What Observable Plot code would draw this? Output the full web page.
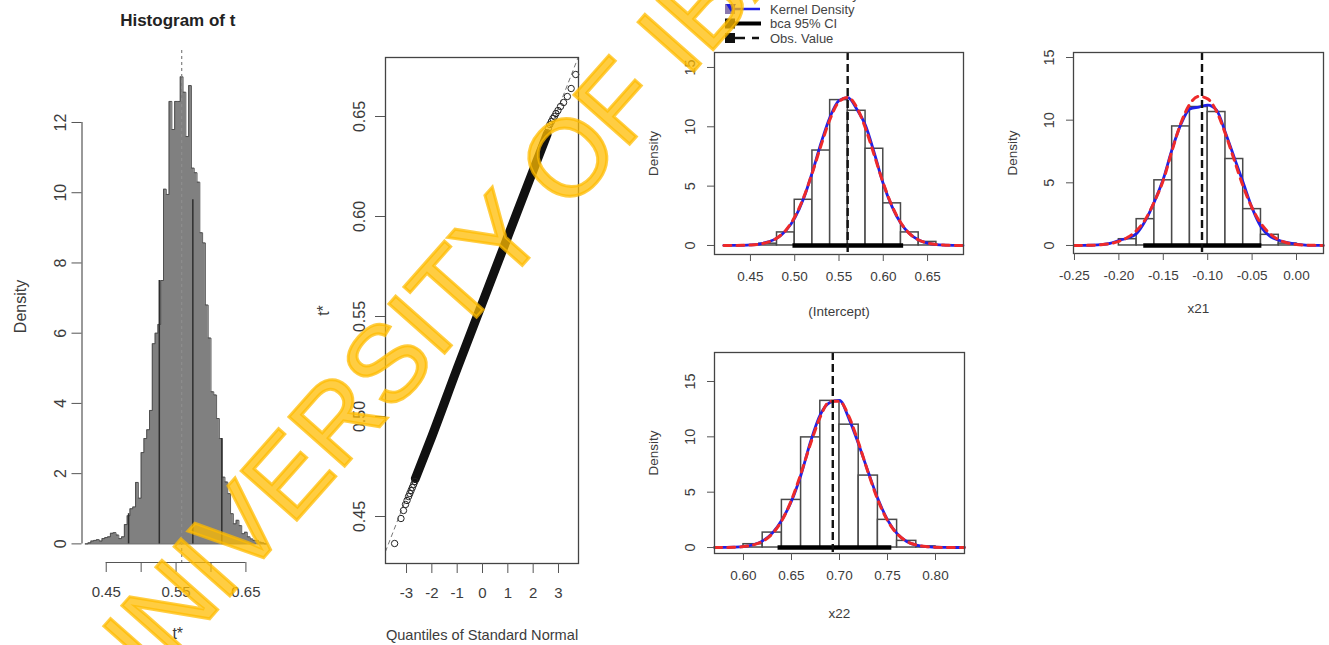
<!DOCTYPE html>
<html><head><meta charset="utf-8">
<script src="https://cdn.jsdelivr.net/npm/d3@7"></script>
<script src="https://cdn.jsdelivr.net/npm/@observablehq/plot@0.6"></script>
<style>
html,body{margin:0;padding:0;background:#fff;}
#page{position:relative;width:1329px;height:645px;overflow:hidden;font-family:"Liberation Sans",Arial,sans-serif;background:#fff;}
#page > svg{position:absolute;}
</style></head><body><div id="page"></div>
<script>
// ---------------- Panel 1: Histogram of t ----------------
const histStart = 0.420;
const histWidth = 0.004;
const histDensity = [0.0,0.03,0.08,0.1,0.12,0.08,0.15,0.18,0.2,0.3,0.32,0.25,0.15,0.2,0.55,0.8,1.0,1.05,1.75,1.3,
  2.6,3.0,3.25,3.8,5.7,6.0,6.25,7.5,10.1,9.95,12.6,11.8,12.6,12.6,13.3,12.86,11.6,13.05,10.7,10.57,
  10.3,8.86,8.57,6.8,5.86,4.33,4.24,3.57,3.0,1.9,1.76,1.43,0.86,0.57,0.67,0.52,0.29,0.33,0.2,0.14,
  0.1,0.1,0.05,0.03,0.0];
const histDarkLineX = [0.482, 0.526, 0.574, 0.6155];
const histDarkLineTop = [0.86, 7.5, 9.8, 3.0];
const t0 = 0.558;
const histYTicks = [0, 2, 4, 6, 8, 10, 12];
const histXTicks = [0.45, 0.50, 0.55, 0.60, 0.65];

// ---------------- Panel 2: QQ plot ----------------
const qqTailQ = [-3.47,-3.22,-3.12,-3.04,-2.98,-2.92,-2.87,-2.82,-2.77,-2.72,-2.67,
                 2.55,2.6,2.66,2.72,2.78,2.84,2.9,2.98,3.08,3.2,3.35,3.5,3.68];
const qqTailT = [0.4365,0.4490,0.4530,0.4560,0.4580,0.4600,0.4615,0.4630,0.4645,0.4660,0.4675,
                 0.6420,0.6440,0.6460,0.6475,0.6490,0.6500,0.6515,0.6530,0.6550,0.6570,0.6600,0.6640,0.6710];
const qqBodyQ = [-2.65,-2.0,-1.0,0.0,1.0,2.0,2.55];
const qqBodyT = [0.4690,0.4900,0.5240,0.5570,0.5900,0.6230,0.6410];
const qqLineQ = [-3.83, 3.79];
const qqLineT = [0.4325, 0.6800];
const qqXTicks = [-3,-2,-1,0,1,2,3];
const qqYTicks = [0.45,0.50,0.55,0.60,0.65];

// ---------------- Panels 3-5: bootstrap densities ----------------
const barWidth = 0.02;
const intBarStart = 0.46;
const intBarDensity = [0.15,1.1,3.85,8.0,12.25,11.35,8.15,3.55,1.1,0.3];
const intCurveX = [0.42,0.43,0.44,0.45,0.46,0.47,0.48,0.49,0.50,0.51,0.52,0.53,0.54,0.55,0.56,0.57,0.58,0.59,0.60,0.61,0.62,0.63,0.64,0.65,0.66,0.67,0.68,0.69];
const intNormal = [0.001,0.004,0.013,0.04,0.11,0.28,0.63,1.29,2.40,4.04,6.15,8.50,10.66,12.11,12.48,11.65,9.85,7.56,5.25,3.31,1.89,0.98,0.46,0.20,0.075,0.026,0.009,0.003];
const intKernel = [0.001,0.004,0.015,0.045,0.12,0.30,0.62,1.25,2.30,3.95,6.2,8.7,10.85,12.2,12.45,11.5,10.1,7.75,5.2,3.25,1.85,0.97,0.47,0.19,0.07,0.025,0.008,0.002];
const intObs = 0.5598, intCiLow = 0.498, intCiHigh = 0.623;
const intXTicks = [0.45,0.50,0.55,0.60,0.65];

const x21BarStart = -0.20;
const x21BarDensity = [0.5,2.1,5.2,9.5,11.05,10.65,6.9,2.9,0.85,0.15];
const x21CurveX = [-0.25,-0.24,-0.23,-0.22,-0.21,-0.20,-0.19,-0.18,-0.17,-0.16,-0.15,-0.14,-0.13,-0.12,-0.11,-0.10,-0.09,-0.08,-0.07,-0.06,-0.05,-0.04,-0.03,-0.02,-0.01,0.00,0.01,0.02,0.03];
const x21Normal = [0.0015,0.005,0.02,0.06,0.15,0.33,0.65,1.2,2.1,3.5,5.2,7.6,9.8,11.3,11.9,11.7,10.7,8.9,6.8,4.7,3.0,1.75,0.95,0.45,0.2,0.08,0.03,0.01,0.003];
const x21Kernel = [0.001,0.005,0.02,0.06,0.16,0.4,0.6,0.95,2.0,3.5,5.3,7.7,9.7,10.9,11.05,11.2,10.8,9.0,7.0,5.0,3.0,1.5,0.75,0.42,0.22,0.1,0.035,0.01,0.003];
const x21Obs = -0.1064, x21CiLow = -0.172, x21CiHigh = -0.039;
const x21XTicks = [-0.25,-0.20,-0.15,-0.10,-0.05,0.00];

const x22BarStart = 0.60;
const x22BarDensity = [0.3,1.35,4.3,9.95,13.25,11.1,6.5,2.5,0.6,0.1];
const x22CurveX = [0.57,0.58,0.59,0.60,0.61,0.62,0.63,0.64,0.65,0.66,0.67,0.68,0.69,0.70,0.71,0.72,0.73,0.74,0.75,0.76,0.77,0.78,0.79,0.80,0.81,0.82,0.83];
const x22Normal = [0.002,0.008,0.027,0.083,0.23,0.56,1.24,2.44,4.29,6.73,9.42,11.8,13.21,13.21,11.8,9.42,6.73,4.29,2.44,1.24,0.56,0.23,0.083,0.027,0.008,0.002,0.0005];
const x22Kernel = [0.002,0.01,0.03,0.09,0.25,0.6,1.3,2.5,4.2,6.6,9.6,12.0,13.1,13.3,11.6,9.3,6.8,4.4,2.5,1.25,0.55,0.22,0.08,0.025,0.008,0.002,0.0005];
const x22Obs = 0.693, x22CiLow = 0.636, x22CiHigh = 0.7545;
const x22XTicks = [0.60,0.65,0.70,0.75,0.80];

const densYTicks = [0, 5, 10, 15];
const legendLabels = ["Normal Density", "Kernel Density", "bca 95% CI", "Obs. Value"];
const watermarkText = "UNIVERSITY OF IBADAN";

// ---------------------------------------------------------
const FONT = '"Liberation Sans", Arial, Helvetica, sans-serif';
const page = document.getElementById("page");
const fmt2 = d => (d < 0 ? "-" : "") + Math.abs(d).toFixed(2);
function place(svg, left, top) { svg.style.left = left + "px"; svg.style.top = top + "px"; page.appendChild(svg); }

// Panel 1
const histBins = histDensity.map((d, i) => ({x1: histStart + i * histWidth, x2: histStart + (i + 1) * histWidth, d}));
const histEnd = histStart + histDensity.length * histWidth;
const histOutline = [{x: histStart, y: 0}, ...histBins.map(b => ({x: b.x1, y: b.d})), {x: histEnd, y: 0}];
const darkLines = histDarkLineX.map((x, i) => ({x, top: histDarkLineTop[i]}));

const p1 = Plot.plot({
  width: 300, height: 645,
  marginLeft: 81.5, marginRight: 27, marginTop: 50, marginBottom: 83,
  x: {domain: [0.4153, 0.6895]},
  y: {domain: [-0.53, 14.05]},
  style: {background: "transparent", color: "#3c3c3c", fontFamily: FONT, fontSize: "15px", overflow: "visible"},
  marks: [
    Plot.areaY(histOutline, {x: "x", y: "y", curve: "step-after", fill: "#808080"}),
    Plot.line(histOutline, {x: "x", y: "y", curve: "step-after", stroke: "#4a4a4a", strokeWidth: 0.9}),
    Plot.ruleY([0], {x1: histStart, x2: histEnd, stroke: "#4a4a4a", strokeWidth: 1}),
    Plot.ruleX(darkLines, {x: "x", y1: 0, y2: "top", stroke: "#2e2e2e", strokeWidth: 1.5}),
    Plot.ruleX([t0], {stroke: "#8c8c8c", strokeWidth: 1.3, strokeDasharray: "3,3"}),
    Plot.ruleX([0.4153], {y1: 0, y2: 12, stroke: "#555", strokeWidth: 1.2}),
    Plot.axisY({ticks: histYTicks, tickSize: 10, tickPadding: 6, tickRotate: -90, fontSize: 16, label: null, stroke: "#555"}),
    Plot.ruleY([-0.53], {x1: 0.45, x2: 0.65, stroke: "#555", strokeWidth: 1.2}),
    Plot.axisX({ticks: histXTicks, tickSize: 10, tickPadding: 14, label: null, stroke: "#555",
      tickFormat: (d, i) => (i % 2 === 0 ? d.toFixed(2) : "")}),
    Plot.text(["Histogram of t"], {frameAnchor: "top", dy: -30, lineAnchor: "middle", fontSize: 17, fontWeight: "bold", fill: "#222"}),
    Plot.text(["Density"], {frameAnchor: "left", dx: -61, rotate: -90, textAnchor: "middle", lineAnchor: "middle", fontSize: 16}),
    Plot.text(["t*"], {frameAnchor: "bottom", dy: 71, lineAnchor: "middle", fontSize: 16})
  ]
});
place(p1, 0, 0);

// Panel 2
const qqTail = qqTailQ.map((q, i) => ({q, t: qqTailT[i]}));
const qqBody = qqBodyQ.map((q, i) => ({q, t: qqBodyT[i]}));
const qqLine = qqLineQ.map((q, i) => ({q, t: qqLineT[i]}));
const p2 = Plot.plot({
  width: 300, height: 645,
  marginLeft: 85, marginRight: 22, marginTop: 57, marginBottom: 82,
  x: {domain: [-3.83, 3.79]},
  y: {domain: [0.4265, 0.6795]},
  style: {background: "transparent", color: "#3c3c3c", fontFamily: FONT, fontSize: "15px", overflow: "visible"},
  marks: [
    Plot.line(qqLine, {x: "q", y: "t", stroke: "#777", strokeWidth: 1, strokeDasharray: "4,4", clip: true}),
    Plot.line(qqBody, {x: "q", y: "t", stroke: "#111", strokeWidth: 9, strokeLinecap: "round", curve: "monotone-x"}),
    Plot.dot(qqTail, {x: "q", y: "t", r: 3.2, stroke: "#222", strokeWidth: 1}),
    Plot.frame({stroke: "#444", strokeWidth: 1.3}),
    Plot.axisY({ticks: qqYTicks, tickSize: 10, tickPadding: 11, tickRotate: -90, fontSize: 16, label: null, stroke: "#555", tickFormat: d => d.toFixed(2)}),
    Plot.axisX({ticks: qqXTicks, tickSize: 10, tickPadding: 14, label: null, stroke: "#555", tickFormat: d => String(d)}),
    Plot.text(["t*"], {frameAnchor: "left", dx: -62, rotate: -90, textAnchor: "middle", lineAnchor: "middle", fontSize: 16}),
    Plot.text(["Quantiles of Standard Normal"], {frameAnchor: "bottom", dy: 72, lineAnchor: "middle", fontSize: 14.6})
  ]
});
place(p2, 300, 0);

// Panels 3-5
function densPanel(o) {
  const bars = o.bars.map((d, i) => ({x1: o.barStart + i * barWidth, x2: o.barStart + (i + 1) * barWidth, d}));
  const kern = o.curveX.map((x, i) => ({x, d: o.kernel[i]}));
  const norm = o.curveX.map((x, i) => ({x, d: o.normal[i]}));
  return Plot.plot({
    width: o.width, height: o.height,
    marginLeft: o.ml, marginRight: o.mr, marginTop: o.mt, marginBottom: o.mb,
    x: {domain: o.xDomain},
    y: {domain: o.yDomain},
    style: {background: "transparent", color: "#3c3c3c", fontFamily: FONT, fontSize: "13.5px", overflow: "visible"},
    marks: [
      Plot.rect(bars, {x1: "x1", x2: "x2", y1: 0, y2: "d", fill: "white", stroke: "#4a4a4a", strokeWidth: 1.5}),
      Plot.line(kern, {x: "x", y: "d", stroke: "#2020e6", strokeWidth: 2.8, curve: "monotone-x"}),
      Plot.line(norm, {x: "x", y: "d", stroke: "#ee2a2a", strokeWidth: 3, strokeDasharray: "7,6", curve: "monotone-x"}),
      Plot.ruleY([0], {x1: o.ciLow, x2: o.ciHigh, stroke: "#000", strokeWidth: 4.5}),
      Plot.ruleX([o.obs], {stroke: "#111", strokeWidth: 2.4, strokeDasharray: "8,4"}),
      Plot.frame({stroke: "#444", strokeWidth: 1.3}),
      Plot.axisX({ticks: o.xTicks, tickSize: 7, tickPadding: 10, label: null, stroke: "#555", tickFormat: fmt2}),
      Plot.axisY({ticks: densYTicks, tickSize: 7, tickPadding: 13, tickRotate: -90, fontSize: 14.5, label: null, stroke: "#555", tickFormat: d => String(d)}),
      Plot.text([o.xLabel], {frameAnchor: "bottom", dy: o.xLabelDy, lineAnchor: "middle", fontSize: 13.5}),
      Plot.text(["Density"], {frameAnchor: "left", dx: -61, rotate: -90, textAnchor: "middle", lineAnchor: "middle", fontSize: 13.5})
    ]
  });
}

place(densPanel({width: 340, height: 330, ml: 74, mr: 17, mt: 52, mb: 76,
  xDomain: [0.4094, 0.6906], yDomain: [-0.76, 16.26],
  bars: intBarDensity, barStart: intBarStart, curveX: intCurveX, kernel: intKernel, normal: intNormal,
  obs: intObs, ciLow: intCiLow, ciHigh: intCiHigh, xTicks: intXTicks, xLabel: "(Intercept)", xLabelDy: 57}), 640, 0);

place(densPanel({width: 349, height: 330, ml: 93, mr: 6, mt: 52, mb: 77,
  xDomain: [-0.2511, 0.0304], yDomain: [-0.64, 15.4],
  bars: x21BarDensity, barStart: x21BarStart, curveX: x21CurveX, kernel: x21Kernel, normal: x21Normal,
  obs: x21Obs, ciLow: x21CiLow, ciHigh: x21CiHigh, xTicks: x21XTicks, xLabel: "x21", xLabelDy: 55}), 980, 0);

place(densPanel({width: 340, height: 315, ml: 74, mr: 16, mt: 22, mb: 92,
  xDomain: [0.5698, 0.8302], yDomain: [-0.54, 17.62],
  bars: x22BarDensity, barStart: x22BarStart, curveX: x22CurveX, kernel: x22Kernel, normal: x22Normal,
  obs: x22Obs, ciLow: x22CiLow, ciHigh: x22CiHigh, xTicks: x22XTicks, xLabel: "x22", xLabelDy: 60}), 640, 330);

// Legend (top of the right block)
const leg = d3.create("svg").attr("width", 220).attr("height", 60)
  .style("position", "absolute").style("left", "715px").style("top", "-12px").style("overflow", "visible");
const rowY = [6.5, 21, 35.5, 50];
leg.append("rect").attr("x", 10).attr("y", rowY[0] - 5).attr("width", 10).attr("height", 10).attr("fill", "#c04040");
leg.append("line").attr("x1", 18).attr("x2", 45).attr("y1", rowY[0]).attr("y2", rowY[0]).attr("stroke", "#ee2a2a").attr("stroke-width", 2.5).attr("stroke-dasharray", "7,5");
leg.append("rect").attr("x", 10).attr("y", rowY[1] - 5).attr("width", 10).attr("height", 10).attr("fill", "#8a78b0");
leg.append("line").attr("x1", 18).attr("x2", 45).attr("y1", rowY[1]).attr("y2", rowY[1]).attr("stroke", "#2020e6").attr("stroke-width", 2.5);
leg.append("path").attr("d", `M11,${rowY[1] - 5}L21,${rowY[1] - 5}L16,${rowY[1] + 3}Z`).attr("fill", "#1a1ae0");
leg.append("rect").attr("x", 10).attr("y", rowY[2] - 5).attr("width", 10).attr("height", 10).attr("fill", "#111");
leg.append("line").attr("x1", 18).attr("x2", 46).attr("y1", rowY[2]).attr("y2", rowY[2]).attr("stroke", "#000").attr("stroke-width", 4);
leg.append("rect").attr("x", 10).attr("y", rowY[3] - 5).attr("width", 10).attr("height", 10).attr("fill", "#111");
leg.append("line").attr("x1", 18).attr("x2", 44).attr("y1", rowY[3]).attr("y2", rowY[3]).attr("stroke", "#111").attr("stroke-width", 2.5).attr("stroke-dasharray", "12,7");
legendLabels.forEach((t, i) => {
  leg.append("text").attr("x", 55).attr("y", rowY[i]).attr("dy", "0.35em").attr("fill", "#444")
    .attr("font-family", FONT).attr("font-size", 13).text(t);
});
page.appendChild(leg.node());

// Watermark
const wm = d3.create("svg").attr("width", 1329).attr("height", 645)
  .style("position", "absolute").style("left", "0px").style("top", "0px").style("pointer-events", "none");
wm.append("text").attr("transform", "translate(120,720) rotate(-48.5)")
  .attr("font-family", FONT).attr("font-size", 108)
  .attr("fill", "#ffbc00").attr("fill-opacity", 0.74)
  .attr("stroke", "#ffbc00").attr("stroke-opacity", 0.74).attr("stroke-width", 3).attr("paint-order", "stroke")
  .text(watermarkText);
page.appendChild(wm.node());
</script></body></html>
